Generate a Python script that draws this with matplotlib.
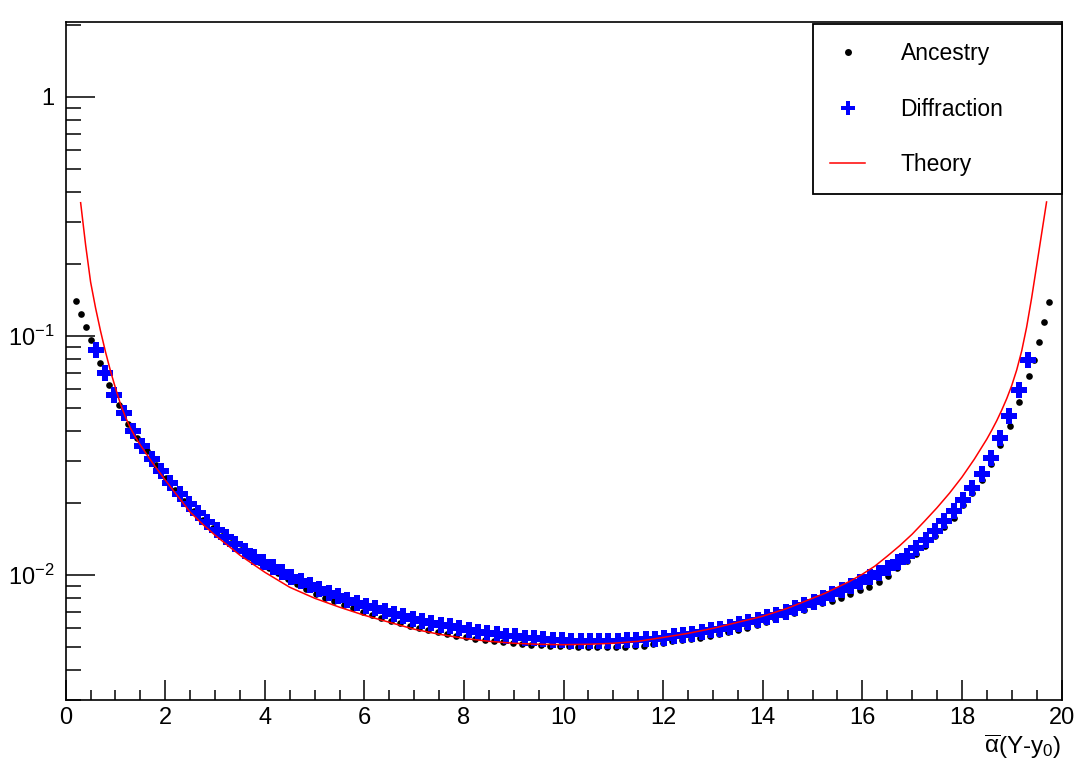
import numpy as np
import matplotlib
matplotlib.use("Agg")
import matplotlib.pyplot as plt
from matplotlib.ticker import FixedLocator, FuncFormatter, LogLocator, MultipleLocator, NullFormatter
from matplotlib.lines import Line2D

plt.rcParams['font.family'] = ['Liberation Sans', 'DejaVu Sans']
plt.rcParams['mathtext.fontset'] = 'custom'
plt.rcParams['mathtext.rm'] = 'Liberation Sans'
plt.rcParams['mathtext.it'] = 'Liberation Sans:italic'
plt.rcParams['mathtext.bf'] = 'Liberation Sans:bold'

# Ancestry (black dots): finer bins at both ends
anc_x = np.concatenate([[0.2, 0.3, 0.4], np.linspace(0.5, 19.34, 101), [19.44, 19.54, 19.64, 19.74]])
anc_y = [0.1401, 0.1232, 0.1087,
         0.0959, 0.0772, 0.0625, 0.0513, 0.0429, 0.0375, 0.0329, 0.0288, 0.02545, 0.02262,
         0.02040, 0.01856, 0.01702, 0.01576, 0.01455, 0.01360, 0.01269, 0.01193, 0.01132, 0.01074,
         0.01016, 0.00963, 0.00918, 0.00873, 0.00835, 0.00804, 0.00776, 0.00750, 0.00726, 0.00702,
         0.00682, 0.00662, 0.00644, 0.00628, 0.00612, 0.00598, 0.00587, 0.00577, 0.00567, 0.00557,
         0.00548, 0.00541, 0.00536, 0.00530, 0.00524, 0.00518, 0.00514, 0.00511, 0.00507, 0.00506,
         0.00504, 0.00503, 0.00502, 0.00501, 0.00501, 0.00501, 0.00501, 0.00502, 0.00503, 0.00506,
         0.00512, 0.00521, 0.00528, 0.00536, 0.00542, 0.00547, 0.00554, 0.00565, 0.00576, 0.00587,
         0.00598, 0.00616, 0.00634, 0.00653, 0.00672, 0.00692, 0.00715, 0.00743, 0.00761, 0.00780,
         0.00803, 0.00830, 0.00863, 0.00892, 0.00932, 0.00992, 0.01067, 0.01147, 0.01221, 0.01325,
         0.01452, 0.01583, 0.01735, 0.01957, 0.02197, 0.02489, 0.02905, 0.03489, 0.04209, 0.0528,
         0.0680,
         0.0791, 0.0944, 0.1138, 0.1388]

# Diffraction (blue crosses)
dif_x = np.linspace(0.6, 19.33, 101)
dif_y = [0.0871, 0.0698, 0.0568, 0.0475, 0.0399, 0.0347, 0.0305, 0.0272, 0.0243, 0.02186,
         0.01986, 0.01812, 0.01670, 0.01546, 0.01438, 0.01344, 0.01263, 0.01192, 0.01130, 0.01077,
         0.01026, 0.00983, 0.00941, 0.00906, 0.00872, 0.00842, 0.00814, 0.00789, 0.00765, 0.00743,
         0.00724, 0.00705, 0.00688, 0.00672, 0.00657, 0.00643, 0.00631, 0.00620, 0.00609, 0.00598,
         0.00589, 0.00580, 0.00572, 0.00565, 0.00558, 0.00553, 0.00547, 0.00543, 0.00538, 0.00535,
         0.00533, 0.00531, 0.00529, 0.00528, 0.00528, 0.00528, 0.00530, 0.00532, 0.00534, 0.00538,
         0.00542, 0.00547, 0.00554, 0.00561, 0.00569, 0.00577, 0.00587, 0.00597, 0.00608, 0.00621,
         0.00634, 0.00648, 0.00664, 0.00682, 0.00702, 0.00724, 0.00747, 0.00773, 0.00800, 0.00830,
         0.00863, 0.00898, 0.00937, 0.00978, 0.01021, 0.01072, 0.01130, 0.01203, 0.01293, 0.01404,
         0.01531, 0.01678, 0.01847, 0.02054, 0.02306, 0.02638, 0.03092, 0.03733, 0.04636, 0.05926,
         0.0791]

# Theory (red curve)
th_x = [0.3, 0.4, 0.5, 0.6, 0.7, 0.8, 0.9, 1.0, 1.1, 1.2, 1.3, 1.4, 1.5,
        1.75, 2.0, 2.25, 2.5, 2.75, 3.0,
        3.5, 4.0, 4.5, 5.0, 5.5, 6.0, 6.5, 7.0, 7.5, 8.0, 8.5, 9.0, 9.5, 10.0,
        10.5, 11.0, 11.5, 12.0, 12.5, 13.0, 13.5, 14.0, 14.5, 15.0,
        15.25, 15.5, 15.75, 16.0, 16.25, 16.5, 16.75, 17.0,
        17.25, 17.5, 17.75, 18.0, 18.25, 18.5,
        18.6, 18.7, 18.8, 18.9, 19.0, 19.1, 19.2, 19.3, 19.4, 19.5, 19.6, 19.7]
th_y = [0.360, 0.2396, 0.1678, 0.1306, 0.1046, 0.0855, 0.0712, 0.0604, 0.0518, 0.0457, 0.0411, 0.0377, 0.0349,
        0.0293, 0.0249, 0.02135, 0.0183, 0.0163, 0.01466,
        0.01209, 0.01026, 0.00888, 0.00799, 0.00733, 0.00678, 0.00634, 0.00593, 0.00565, 0.00543, 0.00528,
        0.00518, 0.00513, 0.00511,
        0.00513, 0.00518, 0.00528, 0.00548, 0.00570, 0.00598, 0.00634, 0.00672, 0.00726, 0.00799,
        0.00838, 0.00888, 0.00941, 0.01007, 0.01088, 0.01198, 0.01325, 0.01480,
        0.01678, 0.01910, 0.02197, 0.02563, 0.0305, 0.03697,
        0.0403, 0.04417, 0.0489, 0.0546, 0.0619, 0.0719, 0.0863, 0.1088, 0.1438, 0.1957, 0.2665, 0.3625]

labels = ["Ancestry", "Diffraction", "Theory"]
y_major = [0.01, 0.1, 1.0]
y_major_labels = {0.01: r'$10^{-2}$', 0.1: r'$10^{-1}$', 1.0: '1'}


def main():
    fig = plt.figure(figsize=(10.78, 7.74), dpi=100)
    ax = fig.add_axes([65.7 / 1078, 74 / 774, 995.8 / 1078, 678 / 774])

    ax.plot(anc_x, anc_y, ls='none', marker='o', ms=4.8, color='black', mew=0, zorder=2)
    ax.plot(dif_x, dif_y, ls='none', marker='P', ms=11, color='blue', mew=0, zorder=3)
    ax.plot(th_x, th_y, color='red', lw=1.1, zorder=4)

    ax.set_yscale('log')
    ax.set_xlim(0, 20)
    ax.set_ylim(0.003, 2.05)

    # x ticks
    ax.xaxis.set_major_locator(MultipleLocator(2))
    ax.xaxis.set_minor_locator(MultipleLocator(0.5))
    ax.tick_params(axis='x', which='major', direction='in', length=14.4, width=1.1,
                   top=False, labelsize=17, pad=5)
    ax.tick_params(axis='x', which='minor', direction='in', length=7.2, width=1.1, top=False)

    # y ticks
    ax.yaxis.set_major_locator(FixedLocator(y_major))
    ax.yaxis.set_major_formatter(FuncFormatter(lambda v, p: y_major_labels.get(round(v, 6), '')))
    ax.yaxis.set_minor_locator(LogLocator(base=10, subs=np.arange(2, 10), numticks=20))
    ax.yaxis.set_minor_formatter(NullFormatter())
    ax.tick_params(axis='y', which='major', direction='in', length=21, width=1.1,
                   right=False, labelsize=17, pad=8)
    ax.tick_params(axis='y', which='minor', direction='in', length=10.6, width=1.1, right=False)

    for sp in ax.spines.values():
        sp.set_linewidth(1.2)

    ax.set_xlabel(r'$\overline{\mathrm{\alpha}}$(Y-y$_{0}$)', loc='right', fontsize=17.5, labelpad=3)

    handles = [
        Line2D([], [], ls='none', marker='o', ms=5, color='black', mew=0),
        Line2D([], [], ls='none', marker='P', ms=10, color='blue', mew=0),
        Line2D([], [], color='red', lw=1.1),
    ]
    leg = ax.legend(handles, labels, loc='upper left', bbox_to_anchor=(0.750, 0.0, 0.25, 0.997),
                    mode='expand', borderaxespad=0, fancybox=False, edgecolor='black', framealpha=1,
                    fontsize=16.5, handlelength=1.5, handletextpad=1.56, labelspacing=1.43,
                    borderpad=0.78)
    leg.get_frame().set_linewidth(1.3)

    fig.savefig('out.png', dpi=100)


if __name__ == '__main__':
    main()
